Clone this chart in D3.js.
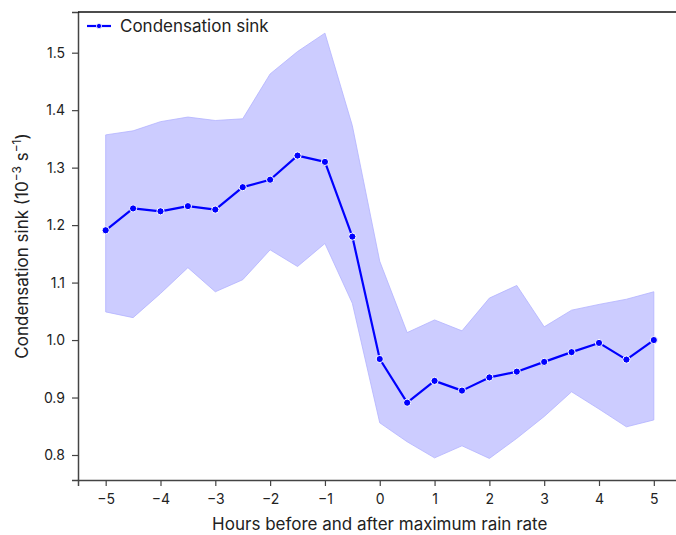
<!DOCTYPE html>
<html>
<head>
<meta charset="utf-8">
<script src="https://cdn.jsdelivr.net/npm/d3@7"></script>
<style>
  body { margin: 0; background: #fff; }
  svg { display: block; font-family: Inter, "Noto Sans", sans-serif; }
</style>
</head>
<body>
<svg width="676" height="535"></svg>
<script>
const hours = [-5, -4.5, -4, -3.5, -3, -2.5, -2, -1.5, -1, -0.5, 0, 0.5, 1, 1.5, 2, 2.5, 3, 3.5, 4, 4.5, 5];
const sinkMean = [1.191, 1.229, 1.224, 1.233, 1.227, 1.266, 1.279, 1.321, 1.310, 1.180, 0.967, 0.891, 0.929, 0.912, 0.935, 0.945, 0.962, 0.979, 0.995, 0.966, 1.000];
const sinkUpper = [1.357, 1.364, 1.380, 1.388, 1.382, 1.385, 1.463, 1.502, 1.534, 1.373, 1.137, 1.013, 1.035, 1.016, 1.073, 1.095, 1.023, 1.052, 1.062, 1.071, 1.084];
const sinkLower = [1.049, 1.039, 1.081, 1.126, 1.084, 1.105, 1.157, 1.128, 1.168, 1.064, 0.856, 0.823, 0.795, 0.816, 0.794, 0.829, 0.867, 0.910, 0.880, 0.849, 0.861];
const xTicks = [-5, -4, -3, -2, -1, 0, 1, 2, 3, 4, 5];
const yTicks = [0.8, 0.9, 1.0, 1.1, 1.2, 1.3, 1.4, 1.5];

const rows = hours.map((h, i) => ({ h: h, m: sinkMean[i], lo: sinkLower[i], hi: sinkUpper[i] }));

const svg = d3.select("svg");
const plotL = 78, plotR = 681.5, plotT = 12, plotB = 480;

const x = d3.scaleLinear().domain([-5.505, 5.505]).range([plotL, plotR]);
const y = d3.scaleLinear().domain([0.7565, 1.5708]).range([plotB, plotT]);

// spread band
svg.append("path")
    .datum(rows)
    .attr("fill", "#ccccff")
    .attr("stroke", "#b3b3ff")
    .attr("stroke-width", 0.8)
    .attr("d", d3.area().x(d => x(d.h)).y0(d => y(d.lo)).y1(d => y(d.hi)));

// mean line
svg.append("path")
    .datum(rows)
    .attr("fill", "none")
    .attr("stroke", "#0000ff")
    .attr("stroke-width", 2.2)
    .attr("stroke-linejoin", "round")
    .attr("d", d3.line().x(d => x(d.h)).y(d => y(d.m)));

svg.append("g")
    .selectAll("circle")
    .data(rows)
    .enter()
    .append("circle")
    .attr("cx", d => x(d.h))
    .attr("cy", d => y(d.m))
    .attr("r", 3.6)
    .attr("fill", "#0000ff")
    .attr("stroke", "#fff")
    .attr("stroke-width", 1);

// axes
const xAxis = svg.append("g")
    .attr("transform", "translate(0," + plotB + ")")
    .call(d3.axisBottom(x).tickValues(xTicks).tickSize(6).tickPadding(8)
        .tickFormat(d => d < 0 ? "\u2212" + Math.abs(d) : d));
const yAxis = svg.append("g")
    .attr("transform", "translate(" + plotL + ",0)")
    .call(d3.axisLeft(y).tickValues(yTicks).tickSize(6).tickPadding(7)
        .tickFormat(d3.format(".1f")));

[xAxis, yAxis].forEach(g => {
    g.selectAll("text").attr("font-size", 14).attr("fill", "#222").attr("font-family", "Inter, sans-serif");
    g.selectAll("line").attr("stroke", "#444").attr("stroke-width", 1.2);
    g.select(".domain").attr("stroke", "#444").attr("stroke-width", 1.5);
});

// top spine
svg.append("line")
    .attr("x1", plotL).attr("x2", plotR)
    .attr("y1", plotT).attr("y2", plotT)
    .attr("stroke", "#111").attr("stroke-width", 1.5);

// axis labels
svg.append("text")
    .attr("x", (x(-5) + x(5)) / 2)
    .attr("y", 530)
    .attr("text-anchor", "middle")
    .attr("font-size", 17)
    .attr("fill", "#222")
    .text("Hours before and after maximum rain rate");

const yl = svg.append("text")
    .attr("transform", "translate(28," + (plotT + plotB) / 2 + ") rotate(-90)")
    .attr("text-anchor", "middle")
    .attr("font-size", 17)
    .attr("fill", "#222");
yl.append("tspan").text("Condensation sink (10");
yl.append("tspan").attr("dy", -7).attr("font-size", 12).text("\u22123");
yl.append("tspan").attr("dy", 7).text(" s");
yl.append("tspan").attr("dy", -7).attr("font-size", 12).text("\u22121");
yl.append("tspan").attr("dy", 7).text(")");

// legend
const lg = svg.append("g").attr("transform", "translate(87,26)");
lg.append("line").attr("x1", 0).attr("x2", 24).attr("y1", 0).attr("y2", 0)
    .attr("stroke", "#0000ff").attr("stroke-width", 2.2);
lg.append("circle").attr("cx", 12).attr("cy", 0).attr("r", 2.6)
    .attr("fill", "#0000ff").attr("stroke", "#fff").attr("stroke-width", 0.8);
lg.append("text").attr("x", 33).attr("y", 6).attr("font-size", 17).attr("fill", "#222")
    .text("Condensation sink");
</script>
</body>
</html>
